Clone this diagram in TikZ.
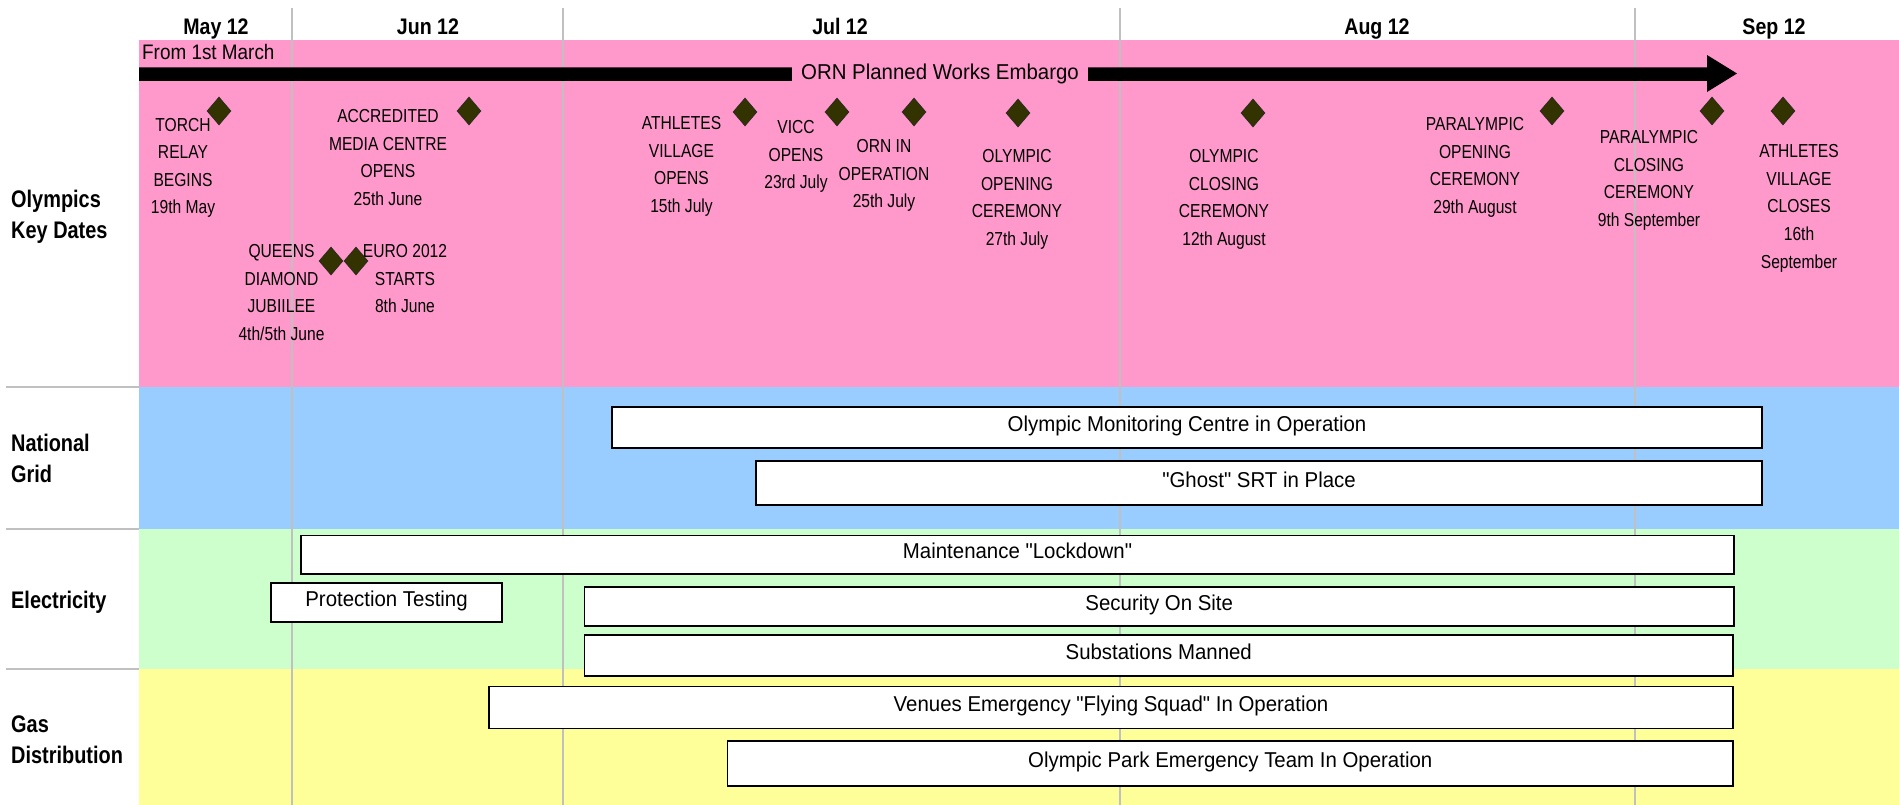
\documentclass[tikz,border=0pt]{standalone}
\usepackage{fontspec}
\setmainfont{Liberation Sans}
\newfontfamily\evfont{Liberation Sans}[FakeStretch=0.83]
\newfontfamily\barfontfam{Liberation Sans}[FakeStretch=0.95]
\newfontfamily\fromfontfam{Liberation Sans}[FakeStretch=0.9]
\newfontfamily\headfontfam{Liberation Sans}[FakeStretch=0.87]
\newfontfamily\rowfontfam{Liberation Sans}[FakeStretch=0.83]
\usetikzlibrary{shapes.geometric}
\definecolor{pinkband}{RGB}{255,153,204}
\definecolor{blueband}{RGB}{153,204,255}
\definecolor{greenband}{RGB}{204,255,204}
\definecolor{yellowband}{RGB}{255,255,153}
\definecolor{gridgray}{RGB}{192,192,192}
\definecolor{diafill}{RGB}{51,51,0}
\tikzset{
  evlabel/.style={font=\evfont\fontsize{18.8}{27.6}\selectfont, align=center, anchor=north, inner sep=0pt},
  bar/.style={draw=black, line width=1.5pt, fill=white, font=\barfontfam\fontsize{21.5}{25}\selectfont, text height=15pt, text depth=6.6pt, inner sep=0pt},
  dia/.style={diamond, fill=diafill, draw=black!85, line width=0.6pt, minimum width=24pt, minimum height=28pt, inner sep=0pt},
  head/.style={font=\headfontfam\bfseries\fontsize{22.5}{26}\selectfont, anchor=base, inner sep=0pt},
  rowlabel/.style={font=\rowfontfam\bfseries\fontsize{24}{31}\selectfont, align=left, anchor=north west, inner sep=0pt},
  gridline/.style={draw=gridgray, line width=1.5pt},
  sepline/.style={draw=gridgray, line width=2pt},
  plain/.style={font=\fromfontfam\fontsize{21}{25}\selectfont, inner sep=0pt}
}
\begin{document}
\begin{tikzpicture}[x=1pt, y=-1pt]
\useasboundingbox (0,0) rectangle (1899,805);
\fill[white] (0,0) rectangle (1899,805);
% bands
\fill[pinkband] (139,40) rectangle (1899,387);
\fill[blueband] (139,387) rectangle (1899,529);
\fill[greenband] (139,529) rectangle (1899,669);
\fill[yellowband] (139,669) rectangle (1899,805);
% grid lines
\foreach \gx in {292,563,1120,1635} {\draw[gridline] (\gx,8) -- (\gx,805);}
% left separators
\foreach \sy in {387,529,669} {\draw[sepline] (6,\sy) -- (139,\sy);}
% embargo arrow
\fill[black] (139,67.5) -- (1707,67.5) -- (1707,55) -- (1737,73.5) -- (1707,92) -- (1707,81) -- (139,81) -- cycle;
\node[plain, fill=pinkband, minimum width=296pt, minimum height=30pt, text height=15.4pt, text depth=0pt, font=\barfontfam\fontsize{21.5}{25}\selectfont] (embargo) at (940,72) {ORN Planned Works Embargo};
\node[plain, anchor=base west] (from) at (142,59.3) {From 1st March};
% headers
\node[head] (may) at (216,34.3) {May 12};
\node[head] (jun) at (428,34.3) {Jun 12};
\node[head] (jul) at (840,34.3) {Jul 12};
\node[head] (aug) at (1377,34.3) {Aug 12};
\node[head] (sep) at (1774,34.3) {Sep 12};
% row labels
\node[rowlabel] (rowoly) at (11,189.5) {Olympics\\Key Dates};
\node[rowlabel] (rowng) at (11,434) {National\\Grid};
\node[rowlabel] (rowel) at (11,591) {Electricity};
\node[rowlabel] (rowgas) at (11,716) {Gas\\Distribution};
% event labels
\node[evlabel] (ltorch) at (183,117.7) {TORCH\\RELAY\\BEGINS\\19th May};
\node[evlabel] (lmedia) at (388,109.3) {ACCREDITED\\MEDIA CENTRE\\OPENS\\25th June};
\node[evlabel] (lqueen) at (281.5,244.3) {QUEENS\\DIAMOND\\JUBIILEE\\4th/5th June};
\node[evlabel] (leuro) at (405,244.3) {EURO 2012\\STARTS\\8th June};
\node[evlabel] (lathopen) at (681.5,116.3) {ATHLETES\\VILLAGE\\OPENS\\15th July};
\node[evlabel] (lvicc) at (796,120.3) {VICC\\OPENS\\23rd July};
\node[evlabel] (lorn) at (884,139.3) {ORN IN\\OPERATION\\25th July};
\node[evlabel] (lolyopen) at (1017,149.3) {OLYMPIC\\OPENING\\CEREMONY\\27th July};
\node[evlabel] (lolyclose) at (1224,149.3) {OLYMPIC\\CLOSING\\CEREMONY\\12th August};
\node[evlabel] (lparaopen) at (1475,117.3) {PARALYMPIC\\OPENING\\CEREMONY\\29th August};
\node[evlabel] (lparaclose) at (1649,130.3) {PARALYMPIC\\CLOSING\\CEREMONY\\9th September};
\node[evlabel] (lathclose) at (1799,144.3) {ATHLETES\\VILLAGE\\CLOSES\\16th\\September};
% diamonds
\node[dia] (dtorch) at (219,111) {};
\node[dia] (dmedia) at (469,111) {};
\node[dia] (dqueen) at (331,261) {};
\node[dia] (deuro) at (356,261) {};
\node[dia] (dathopen) at (745,112) {};
\node[dia] (dvicc) at (837,112) {};
\node[dia] (dorn) at (914,112) {};
\node[dia] (dolyopen) at (1018,113) {};
\node[dia] (dolyclose) at (1253,113) {};
\node[dia] (dparaopen) at (1552,111) {};
\node[dia] (dparaclose) at (1712,111) {};
\node[dia] (dathclose) at (1783,111) {};
% bars
\node[bar, minimum width=1150pt, minimum height=41pt] (mon) at (1187,427.5) {Olympic Monitoring Centre in Operation};
\node[bar, minimum width=1006pt, minimum height=44pt] (ghost) at (1259,483) {"Ghost" SRT in Place};
\node[bar, minimum width=1433pt, minimum height=38.5pt] (maint) at (1017.5,554.75) {Maintenance "Lockdown"};
\node[bar, minimum width=231pt, minimum height=39pt] (prot) at (386.5,602.5) {Protection Testing};
\node[bar, minimum width=1149.5pt, minimum height=39pt] (sec) at (1159.25,606.5) {Security On Site};
\node[bar, minimum width=1148.5pt, minimum height=41pt] (sub) at (1158.75,655.5) {Substations Manned};
\node[bar, minimum width=1244pt, minimum height=42pt] (venues) at (1111,707.5) {Venues Emergency "Flying Squad" In Operation};
\node[bar, minimum width=1005.5pt, minimum height=45pt] (park) at (1230.25,763.5) {Olympic Park Emergency Team In Operation};
\end{tikzpicture}
\end{document}
